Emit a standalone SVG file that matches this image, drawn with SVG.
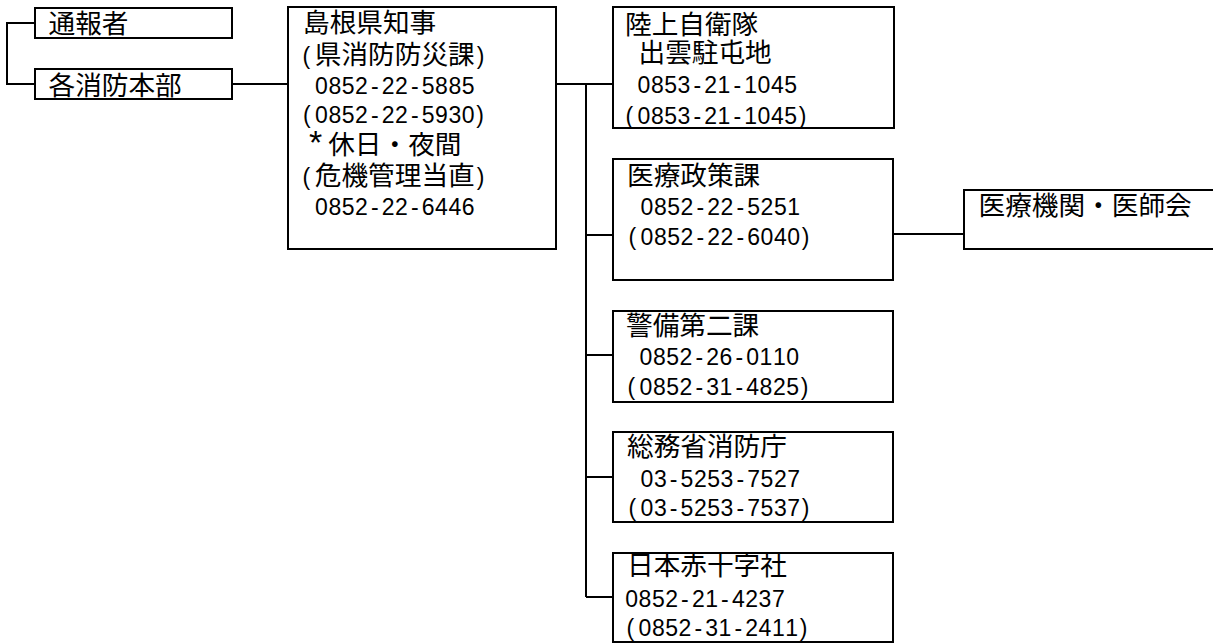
<svg xmlns="http://www.w3.org/2000/svg" width="1213" height="644" viewBox="0 0 1213 644">
<style>
.box{fill:#fff;stroke:#000;stroke-width:2}
.c{fill:none;stroke:#000;stroke-width:2}
.j{font-family:"Noto Sans CJK JP",sans-serif;font-size:26.67px;fill:#000}
.n{font-family:"Liberation Sans",Arial,sans-serif;font-size:23px;fill:#000}
</style>
<rect width="1213" height="644" fill="#fff"/>
<g id="n-tsuhosha">
<rect class="box" x="35" y="8" width="197" height="30"/>
<text class="j" x="48.5" y="33">通報者</text>
</g>
<g id="n-shobohonbu">
<rect class="box" x="35" y="69" width="197" height="30"/>
<text class="j" x="48.5" y="95">各消防本部</text>
</g>
<g id="n-chiji">
<rect class="box" x="288" y="7" width="268" height="242"/>
<text class="j" x="303" y="32">島根県知事</text>
<text y="63.5"><tspan class="n" x="302.5">(</tspan><tspan class="j" x="314.8">県消防防災課</tspan><tspan class="n" x="476.8">)</tspan></text>
<text class="n" x="315.1 328.5 341.8 355.1 371 381.8 395.1 411 421.8 435.1 448.5 461.8" y="93.5">0852-22-5885</text>
<text class="n" x="303 315.1 328.5 341.8 355.1 371 381.8 395.1 411 421.8 435.1 448.5 461.8 476.3" y="123">(0852-22-5930)</text>
<text y="154"><tspan class="n" style="font-size:34px" x="309">*</tspan><tspan class="j" x="328.2">休日・夜間</tspan></text>
<text y="185"><tspan class="n" x="302.5">(</tspan><tspan class="j" x="314.8">危機管理当直</tspan><tspan class="n" x="476.8">)</tspan></text>
<text class="n" x="315.1 328.5 341.8 355.1 371 381.8 395.1 411 421.8 435.1 448.5 461.8" y="215">0852-22-6446</text>
</g>
<g id="n-jieitai">
<rect class="box" x="613" y="7" width="281" height="121"/>
<text class="j" x="625" y="34">陸上自衛隊</text>
<text class="j" x="638.5" y="62">出雲駐屯地</text>
<text class="n" x="637.6 651 664.3 677.6 693.5 704.3 717.6 733.5 744.3 757.6 771 784.3" y="93">0853-21-1045</text>
<text class="n" x="625.5 637.6 651 664.3 677.6 693.5 704.3 717.6 733.5 744.3 757.6 771 784.3 798.8" y="123.5">(0853-21-1045)</text>
</g>
<g id="n-iryoseisaku">
<rect class="box" x="613" y="159" width="280" height="121"/>
<text class="j" x="627" y="184.5">医療政策課</text>
<text class="n" x="640.6 654 667.3 680.6 696.5 707.3 720.6 736.5 747.3 760.6 774 787.3" y="215">0852-22-5251</text>
<text class="n" x="628.5 640.6 654 667.3 680.6 696.5 707.3 720.6 736.5 747.3 760.6 774 787.3 801.8" y="245">(0852-22-6040)</text>
</g>
<g id="n-iryokikan">
<rect class="box" x="964" y="190" width="262" height="59"/>
<text class="j" x="978.5" y="214.5">医療機関・医師会</text>
</g>
<g id="n-keibi">
<rect class="box" x="613" y="311" width="280" height="91"/>
<text class="j" x="626" y="334.5">警備第二課</text>
<text class="n" x="639.6 653 666.3 679.6 695.5 706.3 719.6 735.5 746.3 759.6 773 786.3" y="365">0852-26-0110</text>
<text class="n" x="627.5 639.6 653 666.3 679.6 695.5 706.3 719.6 735.5 746.3 759.6 773 786.3 800.8" y="395">(0852-31-4825)</text>
</g>
<g id="n-shobocho">
<rect class="box" x="613" y="432" width="280" height="90"/>
<text class="j" x="627" y="456">総務省消防庁</text>
<text class="n" x="640.6 654 669.8 680.6 694 707.3 720.6 736.5 747.3 760.6 774 787.3" y="486.5">03-5253-7527</text>
<text class="n" x="628.5 640.6 654 669.8 680.6 694 707.3 720.6 736.5 747.3 760.6 774 787.3 801.8" y="515.5">(03-5253-7537)</text>
</g>
<g id="n-sekijuji">
<rect class="box" x="613" y="553" width="280" height="89"/>
<text class="j" x="627" y="574.5">日本赤十字社</text>
<text class="n" x="625.3 638.6 652 665.3 681 692 705.3 721 732 745.3 758.6 772" y="606.5">0852-21-4237</text>
<text class="n" x="626.5 638.6 652 665.3 678.6 694.5 705.3 718.6 734.5 745.3 758.6 772 785.3 799.8" y="635.5">(0852-31-2411)</text>
</g>
<g id="connectors">
<path class="c" d="M35,23 H7 V84 H35"/>
<path class="c" d="M232,84 H288"/>
<path class="c" d="M556,84 H613"/>
<path class="c" d="M586,84 V597"/>
<path class="c" d="M586,235 H613"/>
<path class="c" d="M586,355 H613"/>
<path class="c" d="M586,477 H613"/>
<path class="c" d="M586,597 H613"/>
<path class="c" d="M893,234 H964"/>
</g>
</svg>
